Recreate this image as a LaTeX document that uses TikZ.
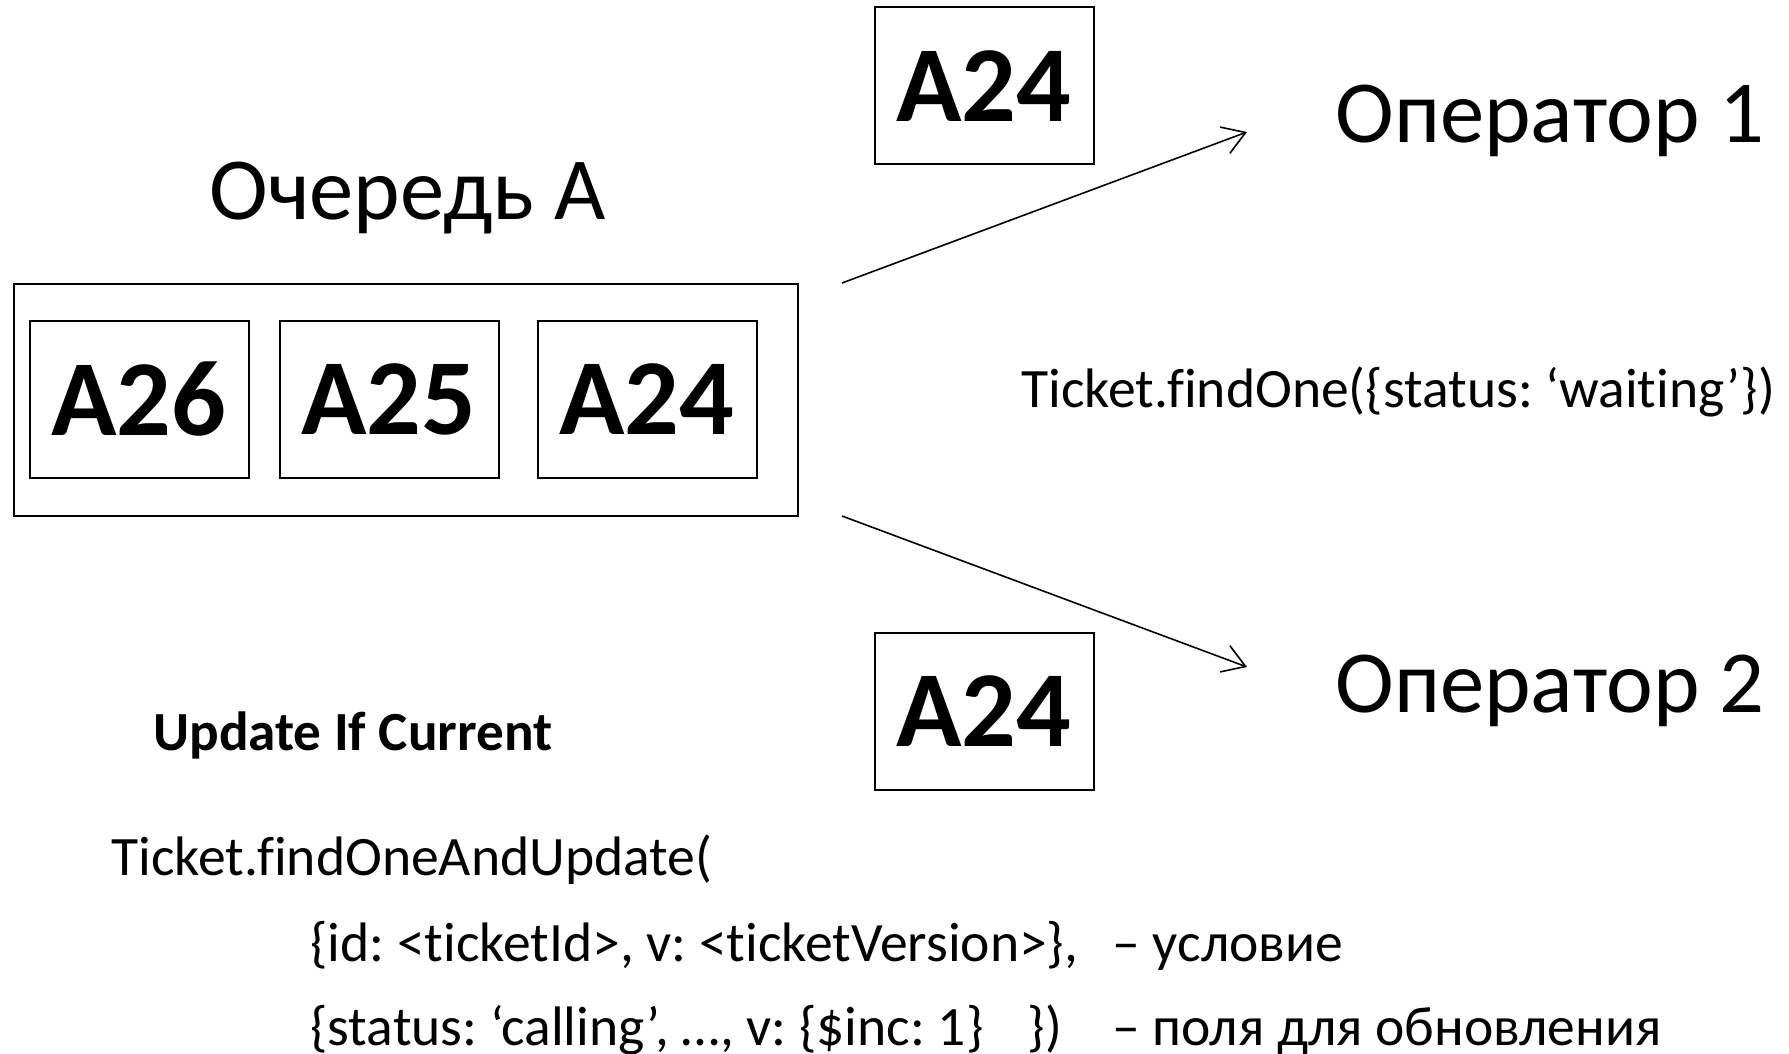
\documentclass[tikz,border=0pt]{standalone}
\usepackage{fontspec}
\setmainfont[Ligatures=NoCommon]{Carlito}
\frenchspacing
\usetikzlibrary{arrows.meta,positioning}

\begin{document}
\begin{tikzpicture}[x=0.5pt,y=-0.5pt,
    ticket/.style={draw,line width=1pt,minimum width=109.5pt,minimum height=78.5pt,inner sep=0pt,font=\fontsize{54}{60}\selectfont\bfseries},
    title/.style={font=\fontsize{44.3}{50}\selectfont,anchor=base west,inner sep=0pt},
    code/.style={font=\fontsize{27.8}{32}\selectfont,anchor=base west,inner sep=0pt},
    flow/.style={-{Straight Barb[length=11pt,width=14pt,line width=0.8pt]},line width=0.8pt}]
    \useasboundingbox (0,0) rectangle (1789,1054);
    \node [draw,line width=1pt,minimum width=392pt,minimum height=116pt] (queue) at (405.6,400) {};
    \node [ticket] (a26) at (139,399) {A26};
    \node [ticket] (a25) at (389,399) {A25};
    \node [ticket] (a24) at (647,399) {A24};
    \node [title] (qname) at (209,220) {Очередь А};
    \node [ticket] (top) at (984,86) {A24};
    \node [ticket] (bottom) at (984,711.5) {A24};
    \node [title] (op1) at (1335,143) {Оператор 1};
    \node [title] (op2) at (1335,712) {Оператор 2};
    \coordinate (out1) at (842,283);
    \coordinate (out2) at (842,516);
    \coordinate (in1) at (1247,132);
    \coordinate (in2) at (1247,667);
    \draw [flow] (out1) -- (in1);
    \draw [flow] (out2) -- (in2);
    \node [code] (find) at (1021,407) {Ticket.findOne(\{status: ‘waiting’\})};
    \node [code,font=\fontsize{27.6}{32}\selectfont\bfseries] (uic) at (153,750) {Update If Current};
    \node [code] (call) at (111,875) {Ticket.findOneAndUpdate(};
    \node [code] (cond) at (310,961) {\{id: <ticketId>, v: <ticketVersion>\},};
    \node [code] (upd) at (310,1045) {\{status: ‘calling’, …, v: \{\$inc: 1\}\hspace{0.8em}\})};
    \node [code] (condnote) at (1112,961) {– условие};
    \node [code] (updnote) at (1112,1045) {– поля для обновления};
\end{tikzpicture}
\end{document}
